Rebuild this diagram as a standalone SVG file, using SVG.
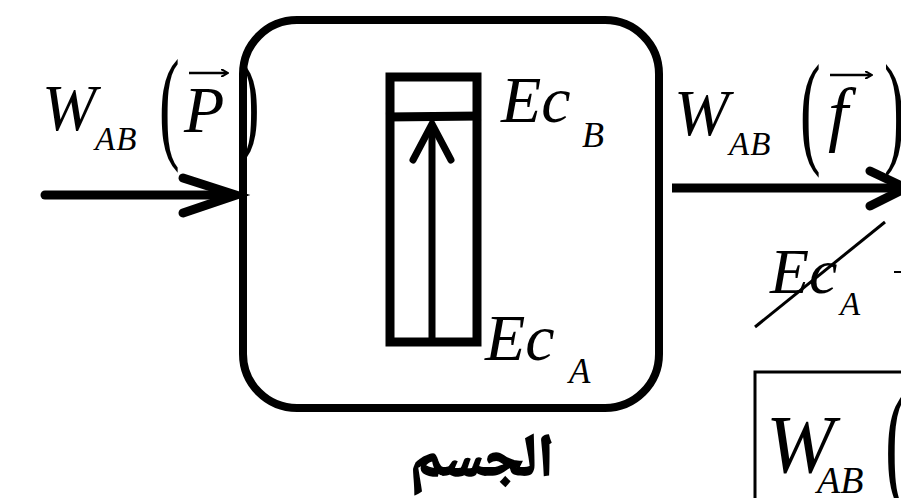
<svg xmlns="http://www.w3.org/2000/svg" width="901" height="498" viewBox="0 0 901 498">
<defs>
  <marker id="vec" markerWidth="8" markerHeight="8" refX="6" refY="4" orient="auto" markerUnits="userSpaceOnUse">
    <path d="M0,0 L7,4 L0,8" fill="none" stroke="#000" stroke-width="2"/>
  </marker>
</defs>
<rect width="901" height="498" fill="#fff"/>
<g id="body">
  <rect x="243" y="20" width="416" height="388" rx="54" fill="none" stroke="#000" stroke-width="8"/>
  <rect x="390" y="77" width="87" height="265" fill="none" stroke="#000" stroke-width="9"/>
  <line x1="386" y1="117" x2="481" y2="116" stroke="#000" stroke-width="9"/>
  <text font-size="30" font-family="Liberation Serif" font-style="italic" transform="translate(501,122) scale(2.2)">Ec</text>
  <text font-size="30" font-family="Liberation Serif" font-style="italic" transform="translate(582,147) scale(1.2)">B</text>
  <text font-size="30" font-family="Liberation Serif" font-style="italic" transform="translate(485,360) scale(2.2)">Ec</text>
  <text font-size="30" font-family="Liberation Serif" font-style="italic" transform="translate(569,383) scale(1.1667)">A</text>
  <text x="482" y="476" font-family="Noto Naskh Arabic" font-weight="bold" font-size="60" stroke="#000" stroke-width="1.6" text-anchor="middle">الجسم</text>
</g>
<g id="bar-arrow" fill="none" stroke="#000" stroke-width="7">
  <line x1="432" y1="343" x2="432" y2="124"/>
  <polyline points="413,160 432,124 451,160" stroke-linecap="round"/>
</g>
<g id="label-in">
  <text font-size="30" font-family="Liberation Serif" font-style="italic" transform="translate(42,130) scale(2.1667)">W</text>
  <text font-size="30" font-family="Liberation Serif" font-style="italic" letter-spacing="0.9" transform="translate(95,150) scale(1.1)">AB</text>
  <text font-size="30" font-family="Liberation Serif" transform="translate(159,146) scale(2.0667,4.1333)">(</text>
  <text font-size="30" font-family="Liberation Serif" font-style="italic" transform="translate(184,132) scale(2.2)">P</text>
  <line x1="189" y1="73" x2="227" y2="73" stroke="#000" stroke-width="2.5" marker-end="url(#vec)"/>
  <text font-size="30" font-family="Liberation Serif" transform="translate(239,140) scale(2.0667,3.823)">)</text>
</g>
<g id="label-out">
  <text font-size="30" font-family="Liberation Serif" font-style="italic" transform="translate(674,135) scale(2.2)">W</text>
  <text font-size="30" font-family="Liberation Serif" font-style="italic" letter-spacing="0.9" transform="translate(729,155) scale(1.1)">AB</text>
  <text font-size="30" font-family="Liberation Serif" transform="translate(800,151) scale(2.0667,4.1333)">(</text>
  <text font-size="30" font-family="Liberation Serif" font-style="italic" transform="translate(828,138) scale(2.4)">f</text>
  <line x1="830" y1="75" x2="871" y2="75" stroke="#000" stroke-width="2.5" marker-end="url(#vec)"/>
  <text font-size="30" font-family="Liberation Serif" transform="translate(884,151) scale(2.0667,4.1333)">)</text>
</g>
<g id="label-eca">
  <text font-size="30" font-family="Liberation Serif" font-style="italic" transform="translate(770,293) scale(2.1333)">Ec</text>
  <text font-size="30" font-family="Liberation Serif" font-style="italic" transform="translate(840,315) scale(1.1)">A</text>
  <line x1="755" y1="327" x2="885" y2="222" stroke="#000" stroke-width="3"/>
  <line x1="894" y1="272" x2="901" y2="272" stroke="#000" stroke-width="2"/>
</g>
<g id="result">
  <rect x="755" y="372" width="200" height="200" fill="none" stroke="#000" stroke-width="3"/>
  <text font-size="30" font-family="Liberation Serif" font-style="italic" transform="translate(766,472) scale(2.7333)">W</text>
  <text font-size="30" font-family="Liberation Serif" font-style="italic" transform="translate(817,493) scale(1.2667)">AB</text>
  <text font-size="30" font-family="Liberation Serif" transform="translate(885,488) scale(2.3333,4.6667)">(</text>
</g>
<g id="connectors" fill="none" stroke="#000" stroke-width="9">
  <line x1="45" y1="195" x2="232" y2="195" stroke-linecap="round"/>
  <polyline points="183,178 236,195 183,213" stroke-linecap="round"/>
  <line x1="672" y1="188" x2="900" y2="188"/>
  <polyline points="870,171 906,188 870,206" stroke-linecap="round"/>
</g>
</svg>
